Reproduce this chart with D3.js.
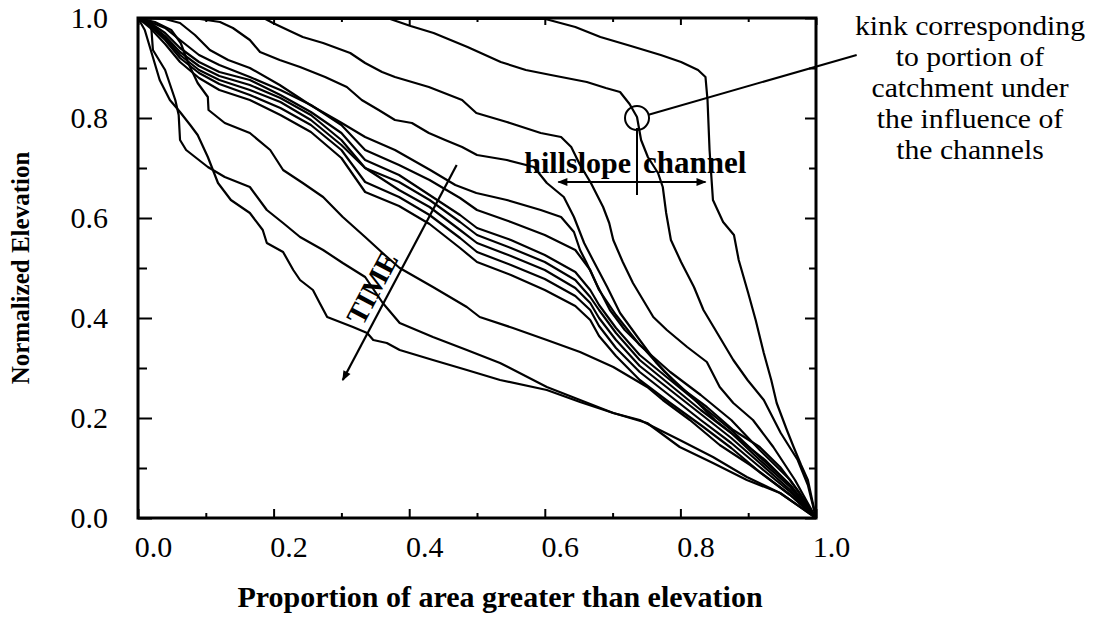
<!DOCTYPE html>
<html><head><meta charset="utf-8">
<script src="https://cdn.jsdelivr.net/npm/d3@7"></script>
<style>body{margin:0;background:#fff}svg{display:block}</style>
</head><body>
<svg id="chart" width="1108" height="636"></svg>
<script>
// ---------- data ----------
const majorTicks = [0, 0.2, 0.4, 0.6, 0.8, 1.0];
const minorTicks = [0.1, 0.3, 0.5, 0.7, 0.9];
const tickLabels = ["0.0", "0.2", "0.4", "0.6", "0.8", "1.0"];
const xTitle = "Proportion of area greater than elevation";
const yTitle = "Normalized Elevation";
const noteLines = ["kink corresponding", "to portion of", "catchment under", "the influence of", "the channels"];

// individual hypsometric curves [proportion of area, normalized elevation]
const curve1 = [[0,1],[0.2,0.998],[0.4,0.998],[0.601,0.998],[0.645,0.982],[0.682,0.962],[0.727,0.944],[0.771,0.926],[0.801,0.912],[0.826,0.896],[0.837,0.882],[0.840,0.836],[0.843,0.736],[0.848,0.636],[0.863,0.592],[0.879,0.566],[0.886,0.516],[0.900,0.450],[0.911,0.396],[0.923,0.330],[0.934,0.276],[0.942,0.230],[0.957,0.176],[0.967,0.142],[0.978,0.106],[0.988,0.076],[1,0]];
const curve2 = [[0,1],[0.2,0.998],[0.372,0.998],[0.402,0.984],[0.436,0.970],[0.461,0.956],[0.486,0.942],[0.535,0.912],[0.572,0.896],[0.609,0.886],[0.662,0.872],[0.690,0.860],[0.711,0.852],[0.725,0.828],[0.736,0.802],[0.742,0.756],[0.752,0.722],[0.767,0.690],[0.774,0.662],[0.779,0.610],[0.786,0.556],[0.801,0.512],[0.820,0.462],[0.834,0.416],[0.849,0.382],[0.878,0.316],[0.899,0.276],[0.923,0.236],[0.948,0.170],[0.973,0.116],[0.988,0.066],[1,0]];
const curve3 = [[0,1],[0.1,0.998],[0.188,0.998],[0.199,0.990],[0.224,0.974],[0.243,0.962],[0.273,0.950],[0.313,0.930],[0.335,0.910],[0.360,0.892],[0.379,0.882],[0.429,0.862],[0.478,0.836],[0.499,0.810],[0.544,0.792],[0.594,0.770],[0.624,0.762],[0.639,0.742],[0.652,0.706],[0.668,0.670],[0.686,0.622],[0.695,0.590],[0.701,0.556],[0.715,0.512],[0.730,0.470],[0.745,0.436],[0.760,0.402],[0.780,0.376],[0.810,0.342],[0.839,0.312],[0.858,0.262],[0.878,0.230],[0.907,0.196],[0.937,0.142],[0.969,0.076],[1,0]];
const curve4 = [[0,1],[0.091,0.998],[0.121,0.992],[0.140,0.980],[0.165,0.956],[0.180,0.932],[0.209,0.916],[0.239,0.902],[0.276,0.882],[0.308,0.862],[0.330,0.836],[0.355,0.816],[0.379,0.796],[0.404,0.790],[0.429,0.770],[0.453,0.756],[0.478,0.742],[0.500,0.726],[0.544,0.716],[0.584,0.702],[0.603,0.670],[0.628,0.642],[0.643,0.602],[0.658,0.550],[0.671,0.516],[0.692,0.462],[0.711,0.410],[0.740,0.356],[0.765,0.310],[0.799,0.262],[0.839,0.222],[0.878,0.176],[0.917,0.142],[0.947,0.102],[0.976,0.050],[1,0]];
const curve5 = [[0,1],[0.040,0.998],[0.062,0.990],[0.084,0.966],[0.106,0.936],[0.133,0.916],[0.165,0.900],[0.209,0.866],[0.254,0.826],[0.298,0.792],[0.335,0.762],[0.379,0.736],[0.431,0.696],[0.468,0.666],[0.499,0.650],[0.544,0.636],[0.594,0.616],[0.624,0.602],[0.643,0.572],[0.652,0.536],[0.661,0.512],[0.677,0.466],[0.696,0.416],[0.718,0.376],[0.748,0.336],[0.777,0.292],[0.814,0.246],[0.851,0.196],[0.888,0.156],[0.925,0.116],[0.962,0.066],[1,0]];

// middle bundle of curves, sharing the same area positions
const bundleX = [0,0.018,0.04,0.062,0.09,0.12,0.165,0.21,0.255,0.3,0.335,0.385,0.43,0.475,0.5,0.55,0.6,0.645,0.667,0.68,0.705,0.74,0.785,0.83,0.875,0.917,0.962,1.0];
const curve6Y  = [1,0.992,0.980,0.956,0.926,0.906,0.882,0.856,0.826,0.786,0.736,0.706,0.676,0.640,0.616,0.592,0.566,0.536,0.496,0.456,0.406,0.346,0.292,0.246,0.196,0.136,0.076,0];
const curve7Y  = [1,0.990,0.970,0.940,0.912,0.892,0.876,0.846,0.812,0.770,0.716,0.686,0.646,0.606,0.580,0.556,0.526,0.492,0.456,0.426,0.380,0.326,0.276,0.226,0.176,0.122,0.066,0];
const curve8Y  = [1,0.988,0.964,0.932,0.904,0.884,0.866,0.840,0.806,0.756,0.700,0.672,0.636,0.592,0.566,0.540,0.512,0.476,0.442,0.416,0.370,0.316,0.266,0.216,0.170,0.116,0.062,0];
const curve9Y  = [1,0.986,0.960,0.926,0.896,0.876,0.856,0.832,0.796,0.746,0.700,0.656,0.622,0.576,0.550,0.524,0.496,0.460,0.430,0.400,0.356,0.304,0.256,0.208,0.160,0.110,0.056,0];
const curve10Y = [1,0.984,0.956,0.920,0.890,0.868,0.846,0.820,0.786,0.736,0.672,0.642,0.606,0.560,0.532,0.506,0.478,0.444,0.416,0.384,0.340,0.292,0.244,0.196,0.150,0.102,0.052,0];
const curve11Y = [1,0.980,0.948,0.912,0.880,0.856,0.836,0.806,0.772,0.720,0.652,0.624,0.588,0.540,0.512,0.486,0.456,0.424,0.396,0.364,0.324,0.276,0.230,0.186,0.140,0.092,0.046,0];

const curve12 = [[0,1],[0.025,0.992],[0.049,0.976],[0.063,0.95],[0.074,0.91],[0.088,0.87],[0.103,0.842],[0.104,0.816],[0.128,0.79],[0.165,0.77],[0.195,0.736],[0.214,0.696],[0.243,0.67],[0.273,0.642],[0.302,0.602],[0.335,0.562],[0.364,0.526],[0.386,0.50],[0.435,0.462],[0.485,0.422],[0.504,0.402],[0.553,0.38],[0.603,0.356],[0.652,0.332],[0.701,0.302],[0.751,0.262],[0.774,0.236],[0.814,0.196],[0.858,0.146],[0.903,0.106],[0.962,0.046],[1,0]];
const curve13 = [[0,1],[0.019,0.992],[0.022,0.936],[0.040,0.896],[0.055,0.836],[0.060,0.806],[0.062,0.756],[0.071,0.736],[0.103,0.702],[0.128,0.682],[0.165,0.662],[0.19,0.616],[0.214,0.59],[0.239,0.562],[0.273,0.536],[0.302,0.51],[0.335,0.482],[0.361,0.43],[0.386,0.39],[0.435,0.362],[0.485,0.336],[0.534,0.31],[0.603,0.262],[0.652,0.236],[0.701,0.21],[0.751,0.19],[0.799,0.142],[0.848,0.11],[0.898,0.076],[0.947,0.05],[1,0]];
const curve14 = [[0,1],[0.010,0.976],[0.021,0.926],[0.032,0.876],[0.047,0.836],[0.062,0.812],[0.077,0.786],[0.088,0.766],[0.103,0.722],[0.118,0.67],[0.137,0.636],[0.165,0.61],[0.184,0.576],[0.19,0.55],[0.214,0.532],[0.229,0.496],[0.239,0.476],[0.258,0.456],[0.268,0.43],[0.279,0.402],[0.317,0.382],[0.338,0.37],[0.347,0.356],[0.367,0.35],[0.386,0.336],[0.435,0.316],[0.485,0.296],[0.534,0.276],[0.603,0.256],[0.652,0.232],[0.701,0.21],[0.74,0.196],[0.799,0.156],[0.848,0.122],[0.898,0.082],[0.947,0.05],[1,0]];

// annotation anchor points (data units)
const kinkPoint = [0.736, 0.80];
const kinkLabelEnd = [1.06, 0.926];
const dividerTop = 0.78, dividerBottom = 0.646;
const regionArrow = [[0.62, 0.672], [0.837, 0.672]];
const timeArrow = [[0.470, 0.706], [0.302, 0.276]];

// ---------- drawing ----------
const L = 138, R = 816, T = 18, B = 518;
const svg = d3.select("#chart");
const x = d3.scaleLinear().domain([0, 1]).range([L, R]);
const y = d3.scaleLinear().domain([0, 1]).range([B, T]);
const font = "'Liberation Serif', 'Times New Roman', serif";

const defs = svg.append("defs");
defs.append("marker").attr("id", "ah").attr("viewBox", "0 0 10 10")
  .attr("refX", 9).attr("refY", 5)
  .attr("orient", "auto-start-reverse").attr("markerUnits", "userSpaceOnUse")
  .attr("markerWidth", 14).attr("markerHeight", 10)
  .append("path").attr("d", "M0,1 L10,5 L0,9 Z").attr("fill", "#000");

const allCurves = [curve1, curve2, curve3, curve4, curve5,
  d3.zip(bundleX, curve6Y), d3.zip(bundleX, curve7Y), d3.zip(bundleX, curve8Y),
  d3.zip(bundleX, curve9Y), d3.zip(bundleX, curve10Y), d3.zip(bundleX, curve11Y),
  curve12, curve13, curve14];

const line = d3.line().x(d => x(d[0])).y(d => y(d[1]));
svg.append("g").selectAll("path").data(allCurves).join("path")
  .attr("d", line).attr("fill", "none").attr("stroke", "#000")
  .attr("stroke-width", 2.2).attr("stroke-linejoin", "round");

// axes with inward ticks
function styleAxis(g) {
  g.select(".domain").remove();
  g.selectAll("line").attr("stroke", "#000").attr("stroke-width", 2);
  g.selectAll("text").attr("fill", "#000").style("font-family", font).style("font-size", "30px");
}
const fmt = (d) => tickLabels[majorTicks.indexOf(d)];
svg.append("g").attr("transform", `translate(0,${B})`)
  .call(d3.axisBottom(x).tickValues(majorTicks).tickSize(-9).tickPadding(18).tickFormat(fmt))
  .call(styleAxis).call(g => g.selectAll("text").attr("dx", 15));
svg.append("g").attr("transform", `translate(0,${B})`)
  .call(d3.axisBottom(x).tickValues(minorTicks).tickSize(-5).tickFormat("")).call(styleAxis);
svg.append("g").attr("transform", `translate(0,${T})`)
  .call(d3.axisTop(x).tickValues(majorTicks).tickSize(-7).tickFormat("")).call(styleAxis);
svg.append("g").attr("transform", `translate(0,${T})`)
  .call(d3.axisTop(x).tickValues(minorTicks).tickSize(-4).tickFormat("")).call(styleAxis);
svg.append("g").attr("transform", `translate(${L},0)`)
  .call(d3.axisLeft(y).tickValues(majorTicks).tickSize(-14).tickPadding(30).tickFormat(fmt)).call(styleAxis);
svg.append("g").attr("transform", `translate(${L},0)`)
  .call(d3.axisLeft(y).tickValues(minorTicks).tickSize(-9).tickFormat("")).call(styleAxis);
svg.append("g").attr("transform", `translate(${R},0)`)
  .call(d3.axisRight(y).tickValues(majorTicks).tickSize(-11).tickFormat("")).call(styleAxis);
svg.append("g").attr("transform", `translate(${R},0)`)
  .call(d3.axisRight(y).tickValues(minorTicks).tickSize(-7).tickFormat("")).call(styleAxis);

// frame
svg.append("rect").attr("x", L).attr("y", T).attr("width", R - L).attr("height", B - T)
  .attr("fill", "none").attr("stroke", "#000").attr("stroke-width", 3);

// axis titles
svg.append("text").attr("x", 500).attr("y", 607).attr("text-anchor", "middle")
  .style("font-family", font).style("font-size", "30px").style("font-weight", "bold").text(xTitle);
svg.append("text").attr("transform", `translate(29,${(T + B) / 2}) rotate(-90)`).attr("text-anchor", "middle")
  .style("font-family", font).style("font-size", "25px").style("font-weight", "bold").text(yTitle);

// kink annotation
svg.append("circle").attr("cx", x(kinkPoint[0])).attr("cy", y(kinkPoint[1])).attr("r", 12)
  .attr("fill", "none").attr("stroke", "#000").attr("stroke-width", 2);
{
  const cx = x(kinkPoint[0]), cy = y(kinkPoint[1]);
  const ex = x(kinkLabelEnd[0]), ey = y(kinkLabelEnd[1]);
  const a = Math.atan2(ey - cy, ex - cx);
  svg.append("line").attr("x1", cx + 12 * Math.cos(a)).attr("y1", cy + 12 * Math.sin(a))
    .attr("x2", ex).attr("y2", ey).attr("stroke", "#000").attr("stroke-width", 2);
}
svg.append("line").attr("x1", x(kinkPoint[0])).attr("x2", x(kinkPoint[0]))
  .attr("y1", y(dividerTop)).attr("y2", y(dividerBottom)).attr("stroke", "#000").attr("stroke-width", 2);
svg.append("line").attr("x1", x(regionArrow[0][0])).attr("y1", y(regionArrow[0][1]))
  .attr("x2", x(regionArrow[1][0])).attr("y2", y(regionArrow[1][1]))
  .attr("stroke", "#000").attr("stroke-width", 2)
  .attr("marker-start", "url(#ah)").attr("marker-end", "url(#ah)");
svg.append("text").attr("x", x(kinkPoint[0]) - 6).attr("y", 173).attr("text-anchor", "end")
  .style("font-family", font).style("font-size", "30px").style("font-weight", "bold").text("hillslope");
svg.append("text").attr("x", x(kinkPoint[0]) + 6).attr("y", 173).attr("text-anchor", "start")
  .style("font-family", font).style("font-size", "31px").style("font-weight", "bold").text("channel");

// right-hand note, slightly widened like the scanned type
const noteG = svg.append("g").attr("transform", "translate(970,0) scale(1.1,1)");
noteLines.forEach((t, i) => noteG.append("text").attr("x", 0).attr("y", 35 + i * 31)
  .attr("text-anchor", "middle").style("font-family", font).style("font-size", "27px").text(t));

// TIME arrow
svg.append("line").attr("x1", x(timeArrow[0][0])).attr("y1", y(timeArrow[0][1]))
  .attr("x2", x(timeArrow[1][0])).attr("y2", y(timeArrow[1][1]))
  .attr("stroke", "#000").attr("stroke-width", 2.2).attr("marker-end", "url(#ah)");
svg.append("text").attr("transform", "translate(372,288) rotate(-62)").attr("text-anchor", "middle")
  .attr("dominant-baseline", "central")
  .style("font-family", font).style("font-size", "29px").style("font-weight", "bold").text("TIME");
</script>
</body></html>
